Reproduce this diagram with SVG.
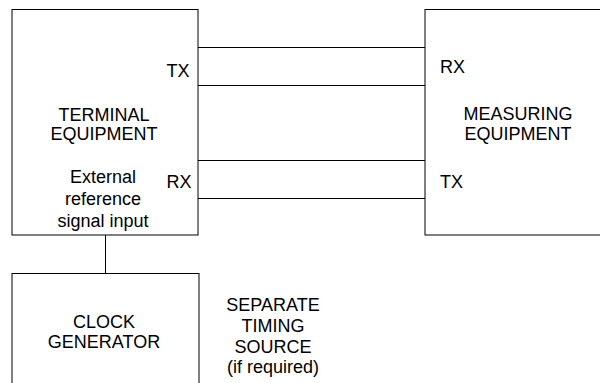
<svg xmlns="http://www.w3.org/2000/svg" width="600" height="383" viewBox="0 0 600 383">
<style>
.box{fill:#fff;stroke:#000;stroke-width:1}
.ln{stroke:#000;stroke-width:1;fill:none}
text{font-family:"Liberation Sans",Arial,sans-serif;font-size:18px;fill:#000}
.c{text-anchor:middle}
</style>
<rect width="600" height="383" fill="#fff"/>
<g id="terminal">
<rect class="box" x="12" y="9.5" width="186" height="225.5"/>
<text class="c" x="104" y="121">TERMINAL</text>
<text class="c" x="104" y="140">EQUIPMENT</text>
<text class="c" x="103" y="183">External</text>
<text class="c" x="103" y="205">reference</text>
<text class="c" x="103" y="227">signal input</text>
<text x="166.5" y="77">TX</text>
<text x="166.5" y="188">RX</text>
</g>
<g id="measuring">
<rect class="box" x="425" y="9.5" width="200" height="225.5"/>
<text x="440" y="73">RX</text>
<text x="440" y="188">TX</text>
<text class="c" x="518" y="120">MEASURING</text>
<text class="c" x="518" y="140">EQUIPMENT</text>
</g>
<g id="clock">
<rect class="box" x="12" y="273.5" width="187" height="130"/>
<text class="c" x="104" y="328">CLOCK</text>
<text class="c" x="104" y="348">GENERATOR</text>
</g>
<g id="timing-label">
<text class="c" x="273" y="311">SEPARATE</text>
<text class="c" x="273" y="332">TIMING</text>
<text class="c" x="273" y="353">SOURCE</text>
<text class="c" x="273" y="373">(if required)</text>
</g>
<g id="connectors">
<line class="ln" x1="198" y1="47.5" x2="425" y2="47.5"/>
<line class="ln" x1="198" y1="85.5" x2="425" y2="85.5"/>
<line class="ln" x1="198" y1="160.5" x2="425" y2="160.5"/>
<line class="ln" x1="198" y1="198.5" x2="425" y2="198.5"/>
<line class="ln" x1="105.5" y1="235" x2="105.5" y2="273"/>
</g>
</svg>
